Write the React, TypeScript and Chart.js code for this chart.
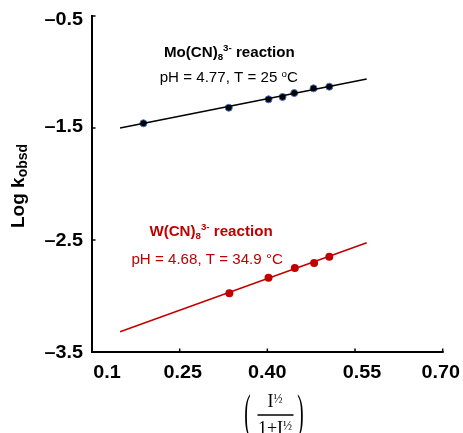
import React, { useEffect, useRef } from "react";
import { Chart, registerables } from "chart.js";

Chart.register(...registerables);

// ---- data ----
const xTicks = [0.1, 0.25, 0.4, 0.55, 0.7];
const xTickLabels = ["0.1", "0.25", "0.40", "0.55", "0.70"];
const yTicks = [-3.5, -2.5, -1.5, -0.5];
const yTickLabels = ["–3.5", "–2.5", "–1.5", "–0.5"];

const moX = [0.188, 0.334, 0.402, 0.426, 0.446, 0.479, 0.506];
const moY = [-1.458, -1.319, -1.244, -1.223, -1.188, -1.146, -1.131];
const moFitX = [0.148, 0.57];
const moFitY = [-1.5, -1.063];

const wX = [0.335, 0.402, 0.447, 0.48, 0.506];
const wY = [-2.976, -2.837, -2.75, -2.705, -2.649];
const wFitX = [0.148, 0.57];
const wFitY = [-3.319, -2.524];

const SANS = "'Liberation Sans', Arial, sans-serif";
const SERIF = "'Liberation Serif', 'Times New Roman', serif";
const RED = "#c00000";

type Run = { text: string; font: string; dy?: number };

function drawRuns(
  ctx: CanvasRenderingContext2D,
  runs: Run[],
  x: number,
  baseline: number,
  color: string,
  align: "center" | "right" | "left",
  sx = 1
) {
  ctx.save();
  ctx.fillStyle = color;
  ctx.textAlign = "left";
  ctx.textBaseline = "alphabetic";
  const widths = runs.map((r) => {
    ctx.font = r.font;
    return ctx.measureText(r.text).width * sx;
  });
  const total = widths.reduce((a, b) => a + b, 0);
  let cx = align === "center" ? x - total / 2 : align === "right" ? x - total : x;
  runs.forEach((r, i) => {
    ctx.font = r.font;
    ctx.save();
    ctx.translate(cx, baseline + (r.dy || 0));
    ctx.scale(sx, 1);
    ctx.fillText(r.text, 0, 0);
    ctx.restore();
    cx += widths[i];
  });
  ctx.restore();
}

const xLabelNudge = [15, 3, 0, 7, -2];
const yLabelNudge = [0, 0, -2, 3];

const decorPlugin = {
  id: "decor",
  afterDraw(chart: any) {
    const ctx: CanvasRenderingContext2D = chart.ctx;
    const xs = chart.scales.x;
    const ys = chart.scales.y;
    const { left, right, top, bottom } = chart.chartArea;

    // axes
    ctx.save();
    ctx.strokeStyle = "#000";
    ctx.lineWidth = 2;
    ctx.lineCap = "square";
    ctx.beginPath();
    ctx.moveTo(left, top);
    ctx.lineTo(left, bottom);
    ctx.lineTo(right, bottom);
    ctx.stroke();
    ctx.lineWidth = 1.5;
    ctx.lineCap = "butt";
    xTicks.forEach((v) => {
      const px = xs.getPixelForValue(v);
      ctx.beginPath();
      ctx.moveTo(px, bottom);
      ctx.lineTo(px, bottom - 3.5);
      ctx.stroke();
    });
    yTicks.forEach((v) => {
      const py = ys.getPixelForValue(v);
      ctx.beginPath();
      ctx.moveTo(left, py);
      ctx.lineTo(left + 3.5, py);
      ctx.stroke();
    });
    ctx.restore();

    // tick labels
    const tickFont = `bold 18px ${SANS}`;
    xTicks.forEach((v, i) => {
      const px = xs.getPixelForValue(v) + xLabelNudge[i];
      drawRuns(ctx, [{ text: xTickLabels[i], font: tickFont }], px, bottom + 25.5, "#000", "center", 1.1);
    });
    yTicks.forEach((v, i) => {
      const py = ys.getPixelForValue(v) + yLabelNudge[i];
      drawRuns(ctx, [{ text: yTickLabels[i], font: tickFont }], left - 9, py + 6.4, "#000", "right", 1.1);
    });

    // annotations
    const b14 = `bold 14px ${SANS}`;
    const b9 = `bold 9px ${SANS}`;
    const n14 = `14px ${SANS}`;
    const n9 = `9px ${SANS}`;
    drawRuns(
      ctx,
      [
        { text: "Mo(CN)", font: b14 },
        { text: "8", font: b9, dy: 3 },
        { text: "3-", font: b9, dy: -6 },
        { text: " reaction", font: b14 },
      ],
      xs.getPixelForValue(0.335),
      ys.getPixelForValue(-0.866),
      "#000",
      "center",
      1.08
    );
    drawRuns(
      ctx,
      [
        { text: "pH = 4.77, T = 25 ", font: n14 },
        { text: "o", font: n9, dy: -5 },
        { text: "C", font: n14 },
      ],
      xs.getPixelForValue(0.334),
      ys.getPixelForValue(-1.089),
      "#000",
      "center",
      1.08
    );
    drawRuns(
      ctx,
      [
        { text: "W(CN)", font: b14 },
        { text: "8", font: b9, dy: 3 },
        { text: "3-", font: b9, dy: -6 },
        { text: " reaction", font: b14 },
      ],
      xs.getPixelForValue(0.3036),
      ys.getPixelForValue(-2.464),
      RED,
      "center",
      1.08
    );
    drawRuns(
      ctx,
      [{ text: "pH = 4.68, T = 34.9 °C", font: n14 }],
      xs.getPixelForValue(0.297),
      ys.getPixelForValue(-2.714),
      RED,
      "center",
      1.08
    );

    // y title
    ctx.save();
    ctx.translate(24, 228);
    ctx.rotate(-Math.PI / 2);
    ctx.fillStyle = "#000";
    ctx.textAlign = "left";
    ctx.textBaseline = "alphabetic";
    ctx.font = `bold 19px ${SANS}`;
    ctx.fillText("Log k", 0, 0);
    const w = ctx.measureText("Log k").width;
    ctx.font = `bold 14px ${SANS}`;
    ctx.fillText("obsd", w, 3);
    ctx.restore();

    // x title: (I½ / (1+I½))
    ctx.save();
    ctx.fillStyle = "#000";
    ctx.strokeStyle = "#000";
    ctx.textBaseline = "alphabetic";
    const cx = 275;
    drawRuns(
      ctx,
      [
        { text: "I", font: `18px ${SERIF}` },
        { text: "½", font: `12px ${SERIF}`, dy: -4 },
      ],
      cx,
      407,
      "#000",
      "center"
    );
    ctx.lineWidth = 1.5;
    ctx.beginPath();
    ctx.moveTo(257.5, 415);
    ctx.lineTo(293.5, 415);
    ctx.stroke();
    drawRuns(
      ctx,
      [
        { text: "1+I", font: `18px ${SERIF}` },
        { text: "½", font: `12px ${SERIF}`, dy: -4 },
      ],
      cx,
      434,
      "#000",
      "center"
    );
    drawRuns(ctx, [{ text: "(", font: `48px ${SERIF}` }], 247.5, 428, "#000", "center", 0.4);
    drawRuns(ctx, [{ text: ")", font: `48px ${SERIF}` }], 300.5, 428, "#000", "center", 0.4);
    ctx.restore();
  },
};

export default function App() {
  const ref = useRef<HTMLCanvasElement | null>(null);
  useEffect(() => {
    if (!ref.current) return;
    const pts = (xs: number[], ys: number[]) => xs.map((x, i) => ({ x, y: ys[i] }));
    const chart = new Chart(ref.current, {
      type: "scatter",
      data: {
        datasets: [
          {
            data: pts(moFitX, moFitY),
            showLine: true,
            borderColor: "#000",
            borderWidth: 1.5,
            pointRadius: 0,
          },
          {
            data: pts(moX, moY),
            pointRadius: 3.5,
            backgroundColor: "#000",
            borderColor: "#4472c4",
            borderWidth: 1,
          },
          {
            data: pts(wFitX, wFitY),
            showLine: true,
            borderColor: RED,
            borderWidth: 1.5,
            pointRadius: 0,
          },
          {
            data: pts(wX, wY),
            pointRadius: 4,
            backgroundColor: RED,
            borderColor: RED,
            borderWidth: 0,
          },
        ] as any,
      },
      options: {
        responsive: false,
        animation: false,
        layout: { padding: { left: 92, top: 16, right: 20.3, bottom: 81 } },
        plugins: { legend: { display: false }, tooltip: { enabled: false } },
        scales: {
          x: { type: "linear", min: 0.1, max: 0.7, display: false },
          y: { type: "linear", min: -3.5, max: -0.5, display: false },
        },
      },
      plugins: [decorPlugin],
    });
    return () => chart.destroy();
  }, []);
  return (
    <div style={{ position: "absolute", left: 0, top: 0, width: 463, height: 433, background: "#fff" }}>
      <canvas ref={ref} width={463} height={433} style={{ display: "block" }} />
    </div>
  );
}
